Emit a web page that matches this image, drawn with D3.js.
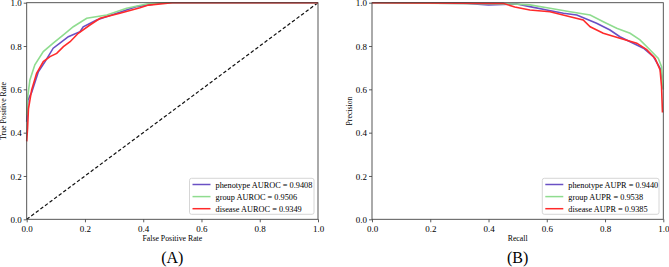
<!DOCTYPE html>
<meta charset="utf-8">
<html>
<head>
<style>
  body { margin: 0; background: #fff; }
  svg text { font-family: "Liberation Serif", "Times New Roman", serif !important; }
</style>
</head>
<body>
<script src="https://d3js.org/d3.v7.min.js"></script>
<div id="chart"></div>
<script>

// ROC curves (false positive rate, true positive rate)
var rocPhenoFpr = [0, 0.004, 0.017, 0.04, 0.063, 0.091, 0.114, 0.143, 0.183, 0.194, 0.24, 0.309, 0.378, 0.47, 1];
var rocPhenoTpr = [0.45, 0.55, 0.586, 0.681, 0.728, 0.79, 0.813, 0.843, 0.866, 0.889, 0.92, 0.951, 0.982, 1, 1];

var rocGroupFpr = [0, 0.002, 0.011, 0.028, 0.057, 0.091, 0.126, 0.16, 0.206, 0.275, 0.343, 0.412, 0.458, 1];
var rocGroupTpr = [0.48, 0.55, 0.643, 0.713, 0.774, 0.813, 0.851, 0.889, 0.928, 0.943, 0.974, 0.994, 1, 1];

var rocDiseaseFpr = [0, 0.003, 0.006, 0.017, 0.034, 0.057, 0.08, 0.103, 0.126, 0.149, 0.177, 0.217, 0.252, 0.32, 0.389, 0.418, 0.5, 1];
var rocDiseaseTpr = [0.36, 0.42, 0.51, 0.597, 0.674, 0.728, 0.751, 0.766, 0.797, 0.82, 0.859, 0.897, 0.928, 0.951, 0.977, 0.989, 1, 1];

// PR curves (recall, precision)
var prPhenoRec = [0, 0.325, 0.4, 0.497, 0.542, 0.6, 0.657, 0.703, 0.771, 0.817, 0.851, 0.886, 0.932, 0.966, 0.989, 0.997, 1];
var prPhenoPre = [1, 0.997, 0.99, 0.994, 0.982, 0.966, 0.951, 0.943, 0.905, 0.874, 0.843, 0.82, 0.79, 0.751, 0.697, 0.64, 0.6];

var prGroupRec = [0, 0.485, 0.542, 0.611, 0.68, 0.749, 0.794, 0.84, 0.886, 0.92, 0.954, 0.983, 0.994, 0.997, 1];
var prGroupPre = [1, 0.994, 0.99, 0.974, 0.958, 0.943, 0.912, 0.882, 0.859, 0.828, 0.783, 0.743, 0.705, 0.64, 0.6];

var prDiseaseRec = [0, 0.45, 0.49, 0.542, 0.611, 0.68, 0.725, 0.749, 0.794, 0.851, 0.909, 0.943, 0.972, 0.989, 0.994, 0.997, 1];
var prDiseasePre = [1, 0.997, 0.98, 0.966, 0.958, 0.935, 0.92, 0.889, 0.859, 0.836, 0.813, 0.783, 0.743, 0.689, 0.612, 0.497, 0.497];

var rocLabels = ["phenotype AUROC = 0.9408", "group AUROC = 0.9506", "disease AUROC = 0.9349"];
var prLabels = ["phenotype AUPR = 0.9440", "group AUPR = 0.9538", "disease AUPR = 0.9385"];
var colors = ["#6a50c4", "#8fdc8f", "#ff2a2a"];
var ticks = [0, 0.2, 0.4, 0.6, 0.8, 1.0];

var W = 669, H = 267;
var svg = d3.select("#chart").append("svg")
  .attr("width", W).attr("height", H);

function zipPts(xs, ys) {
  return xs.map(function(d, i) { return [d, ys[i]]; });
}

function panel(opt) {
  var x = d3.scaleLinear().domain([0, 1]).range([opt.x0, opt.x1]);
  var y = d3.scaleLinear().domain([0, 1]).range([219.3, 2.7]);
  var g = svg.append("g");

  // axes
  var xa = g.append("g").attr("transform", "translate(0,219.3)")
    .call(d3.axisBottom(x).tickValues(ticks).tickFormat(d3.format(".1f")).tickSize(3).tickPadding(3));
  var ya = g.append("g").attr("transform", "translate(" + opt.x0 + ",0)")
    .call(d3.axisLeft(y).tickValues(ticks).tickFormat(d3.format(".1f")).tickSize(3).tickPadding(2));
  [xa, ya].forEach(function(a) {
    a.attr("font-family", "Liberation Serif").attr("font-size", 9);
    a.select(".domain").remove();
    a.selectAll("line").attr("stroke", "#333").attr("stroke-width", 0.8);
    a.selectAll("text").attr("fill", "#000");
  });
  ya.selectAll("text").attr("dy", "0.34em");

  if (opt.diag) {
    g.append("line")
      .attr("x1", x(0)).attr("y1", y(0)).attr("x2", x(1)).attr("y2", y(1))
      .attr("stroke", "#111").attr("stroke-width", 1.2).attr("stroke-dasharray", "3.5,2.2");
  }

  var line = d3.line().x(function(d) { return x(d[0]); }).y(function(d) { return y(d[1]); });
  opt.series.forEach(function(s, i) {
    g.append("path").datum(s)
      .attr("fill", "none").attr("stroke", colors[i]).attr("stroke-width", 1.6)
      .attr("d", line);
  });

  // frame
  g.append("rect")
    .attr("x", opt.x0).attr("y", 2.7)
    .attr("width", opt.x1 - opt.x0).attr("height", 216.6)
    .attr("fill", "none").attr("stroke", "#444").attr("stroke-width", 0.9);

  // legend
  var lg = g.append("g");
  lg.append("rect")
    .attr("x", opt.lx).attr("y", 178.3).attr("width", opt.lw).attr("height", 36)
    .attr("rx", 2).attr("fill", "#fff").attr("stroke", "#ccc").attr("stroke-width", 0.8);
  opt.labels.forEach(function(t, i) {
    var yy = 184.5 + i * 12.1;
    lg.append("line")
      .attr("x1", opt.lx + 3).attr("x2", opt.lx + 21)
      .attr("y1", yy).attr("y2", yy)
      .attr("stroke", colors[i]).attr("stroke-width", 1.5);
    lg.append("text")
      .attr("x", opt.lx + 26).attr("y", yy + 3)
      .style("font-size", "8.3px").attr("fill", "#000").text(t);
  });

  // axis labels
  g.append("text")
    .attr("x", (opt.x0 + opt.x1) / 2).attr("y", 241)
    .attr("text-anchor", "middle").style("font-size", "7.8px").text(opt.xlabel);
  g.append("text")
    .attr("transform", "translate(" + opt.ylx + ",111) rotate(-90)")
    .attr("text-anchor", "middle").style("font-size", "7.8px").text(opt.ylabel);
  g.append("text")
    .attr("x", (opt.x0 + opt.x1) / 2).attr("y", 263)
    .attr("text-anchor", "middle").style("font-size", "16px").text(opt.tag);
}

panel({
  x0: 26.7, x1: 318, diag: true,
  series: [zipPts(rocPhenoFpr, rocPhenoTpr), zipPts(rocGroupFpr, rocGroupTpr), zipPts(rocDiseaseFpr, rocDiseaseTpr)],
  labels: rocLabels, lx: 189.5, lw: 124.5,
  xlabel: "False Positive Rate", ylabel: "True Positive Rate", ylx: 6, tag: "(A)"
});

panel({
  x0: 372, x1: 663.3, diag: false,
  series: [zipPts(prPhenoRec, prPhenoPre), zipPts(prGroupRec, prGroupPre), zipPts(prDiseaseRec, prDiseasePre)],
  labels: prLabels, lx: 542.3, lw: 116.7,
  xlabel: "Recall", ylabel: "Precision", ylx: 352, tag: "(B)"
});

</script>
</body>
</html>
